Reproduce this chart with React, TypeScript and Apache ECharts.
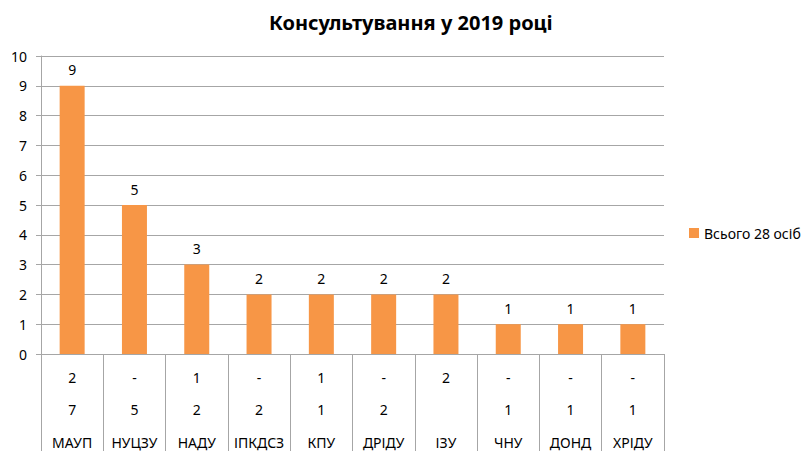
import React, { useEffect, useRef } from "react";
import * as echarts from "echarts";

const categories = ["МАУП", "НУЦЗУ", "НАДУ", "ІПКДСЗ", "КПУ", "ДРІДУ", "ІЗУ", "ЧНУ", "ДОНД", "ХРІДУ"];
const row1Labels = ["2", "-", "1", "-", "1", "-", "2", "-", "-", "-"];
const row2Labels = ["7", "5", "2", "2", "1", "2", "", "1", "1", "1"];
const totals = [9, 5, 3, 2, 2, 2, 2, 1, 1, 1];
const seriesName = "Всього 28 осіб";
const titleText = "Консультування у 2019 році";

const FONT = "'Noto Sans', 'Open Sans', sans-serif";

export default function App() {
  const ref = useRef<HTMLDivElement>(null);
  useEffect(() => {
    if (!ref.current) return;
    const chart = echarts.init(ref.current, null, { renderer: "svg", width: 805, height: 451 });
    chart.setOption({
      animation: false,
      textStyle: { fontFamily: FONT },
      title: {
        text: titleText,
        left: 264,
        top: 7,
        textStyle: { fontFamily: FONT, fontSize: 20, fontWeight: "bold", color: "#000" },
      },
      legend: {
        data: [seriesName],
        orient: "vertical",
        left: 684,
        top: 221,
        icon: "rect",
        itemWidth: 10,
        itemHeight: 10,
        itemGap: 6,
        textStyle: { fontFamily: FONT, fontSize: 14, color: "#000" },
      },
      grid: {
        left: 41,
        right: 141,
        top: 56,
        bottom: 97,
        containLabel: false,
        outerBoundsMode: "none",
      },
      xAxis: {
        type: "category",
        data: categories,
        boundaryGap: true,
        axisLine: { show: true, lineStyle: { color: "#a6a6a6", width: 1 } },
        axisTick: { show: true, length: 97, alignWithLabel: false, lineStyle: { color: "#a6a6a6", width: 1 } },
        axisLabel: {
          interval: 0,
          margin: 7,
          color: "#000",
          fontFamily: FONT,
          fontSize: 14,
          lineHeight: 32.5,
          formatter: (v: string, i: number) => `${row1Labels[i]}\n${row2Labels[i] || " "}\n${v}`,
        },
      },
      yAxis: {
        type: "value",
        min: 0,
        max: 10,
        interval: 1,
        axisLine: { show: true, lineStyle: { color: "#a6a6a6", width: 1 } },
        axisTick: { show: true, length: 5, lineStyle: { color: "#a6a6a6" } },
        axisLabel: { margin: 14, color: "#000", fontFamily: FONT, fontSize: 14 },
        splitLine: { show: true, lineStyle: { color: "#a6a6a6", width: 1 } },
      },
      series: [
        {
          name: seriesName,
          type: "bar",
          data: totals,
          barWidth: 25,
          itemStyle: { color: "#F79646" },
          label: {
            show: true,
            position: "top",
            distance: 9,
            color: "#000",
            fontFamily: FONT,
            fontSize: 14,
          },
        },
      ],
    });
    return () => chart.dispose();
  }, []);
  return (
    <div
      ref={ref}
      style={{ position: "absolute", left: 0, top: 0, width: 805, height: 451, background: "#fff" }}
    />
  );
}
